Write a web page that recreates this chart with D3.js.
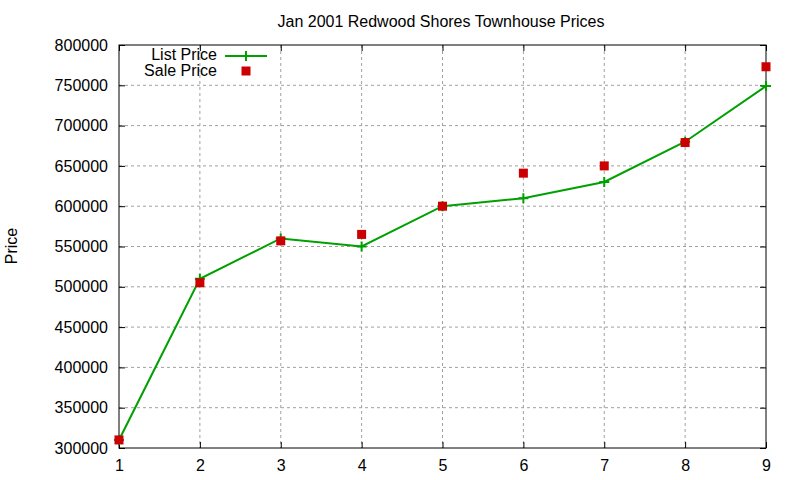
<!DOCTYPE html>
<html>
<head>
<meta charset="utf-8">
<script src="https://cdn.jsdelivr.net/npm/d3@7"></script>
<style>
  body { margin: 0; background: #fff; }
  text { font-family: "Liberation Sans", Arial, sans-serif; }
</style>
</head>
<body>
<div id="chart"></div>
<script>
const months = [1, 2, 3, 4, 5, 6, 7, 8, 9];
const listPrice = [310000, 510000, 560000, 550000, 600000, 610000, 630000, 680000, 749000];
const salePrice = [310000, 505000, 557000, 565000, 600000, 641000, 650000, 679000, 773000];
const yTicks = [300000, 350000, 400000, 450000, 500000, 550000, 600000, 650000, 700000, 750000, 800000];

const margin = { top: 45, right: 34, bottom: 32, left: 119 },
    width = 800 - margin.left - margin.right,
    height = 480 - margin.top - margin.bottom;

const svg = d3.select("#chart")
    .append("svg")
    .attr("width", 800)
    .attr("height", 480);

const g = svg.append("g")
    .attr("transform", `translate(${margin.left},${margin.top})`);

const x = d3.scaleLinear().domain([1, 9]).range([0, width]);
const y = d3.scaleLinear().domain([300000, 800000]).range([height, 0]);

// grid
g.append("g")
    .selectAll("line")
    .data(months.slice(1, -1))
    .join("line")
    .attr("x1", d => x(d)).attr("x2", d => x(d))
    .attr("y1", 0).attr("y2", height)
    .attr("stroke", "#a0a0a0").attr("stroke-dasharray", "3,3");
g.append("g")
    .selectAll("line")
    .data(yTicks.slice(1, -1))
    .join("line")
    .attr("x1", 0).attr("x2", width)
    .attr("y1", d => y(d)).attr("y2", d => y(d))
    .attr("stroke", "#a0a0a0").attr("stroke-dasharray", "3,3");

// axes (ticks inside, mirrored)
const axisStyle = sel => {
    sel.select(".domain").remove();
    sel.selectAll("line").attr("stroke", "#000");
    sel.selectAll("text").attr("font-size", 16).attr("fill", "#000");
};
g.append("g")
    .attr("transform", `translate(0,${height})`)
    .call(d3.axisBottom(x).tickValues(months).tickFormat(d3.format("d")).tickSizeInner(-6).tickPadding(12))
    .call(axisStyle);
g.append("g")
    .call(d3.axisTop(x).tickValues(months).tickSizeInner(-6).tickFormat(""))
    .call(axisStyle);
g.append("g")
    .call(d3.axisLeft(y).tickValues(yTicks).tickFormat(d3.format("d")).tickSizeInner(-6).tickPadding(11))
    .call(axisStyle);
g.append("g")
    .attr("transform", `translate(${width},0)`)
    .call(d3.axisRight(y).tickValues(yTicks).tickSizeInner(-6).tickFormat(""))
    .call(axisStyle);

g.append("rect")
    .attr("width", width).attr("height", height)
    .attr("fill", "none").attr("stroke", "#000").attr("stroke-width", 1);

// list price line
const line = d3.line()
    .x((d, i) => x(months[i]))
    .y(d => y(d));
g.append("path")
    .datum(listPrice)
    .attr("d", line)
    .attr("fill", "none")
    .attr("stroke", "#00a000")
    .attr("stroke-width", 2);

g.append("g")
    .selectAll("path")
    .data(listPrice)
    .join("path")
    .attr("d", (d, i) => `M${x(months[i]) - 5},${y(d)}h10M${x(months[i])},${y(d) - 5}v10`)
    .attr("stroke", "#00a000")
    .attr("stroke-width", 2);

// sale price points
g.append("g")
    .selectAll("rect")
    .data(salePrice)
    .join("rect")
    .attr("x", (d, i) => x(months[i]) - 4.5)
    .attr("y", d => y(d) - 4.5)
    .attr("width", 9).attr("height", 9)
    .attr("fill", "#cc0000");

// title & label
svg.append("text")
    .attr("x", 441).attr("y", 27)
    .attr("text-anchor", "middle")
    .attr("font-size", 16)
    .text("Jan 2001 Redwood Shores Townhouse Prices");

svg.append("text")
    .attr("transform", "translate(17,246) rotate(-90)")
    .attr("text-anchor", "middle")
    .attr("font-size", 16)
    .text("Price");

// legend
const legend = svg.append("g");
legend.append("text")
    .attr("x", 217).attr("y", 60)
    .attr("text-anchor", "end")
    .attr("font-size", 16)
    .text("List Price");
legend.append("line")
    .attr("x1", 225).attr("x2", 267).attr("y1", 56).attr("y2", 56)
    .attr("stroke", "#00a000").attr("stroke-width", 2);
legend.append("path")
    .attr("d", "M241,56h10M246,51v10")
    .attr("stroke", "#00a000").attr("stroke-width", 2);
legend.append("text")
    .attr("x", 217).attr("y", 76)
    .attr("text-anchor", "end")
    .attr("font-size", 16)
    .text("Sale Price");
legend.append("rect")
    .attr("x", 241.5).attr("y", 66.5).attr("width", 9).attr("height", 9)
    .attr("fill", "#cc0000");
</script>
</body>
</html>
